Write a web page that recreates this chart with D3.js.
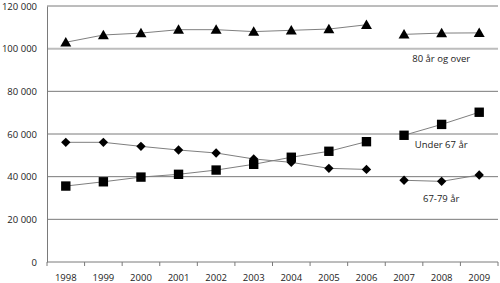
<!DOCTYPE html>
<html>
<head>
<meta charset="utf-8">
<script src="https://cdn.jsdelivr.net/npm/d3@7"></script>
<style>
  body { margin: 0; background: #fff; }
  text { font-family: "Open Sans", sans-serif; fill: #222; }
</style>
</head>
<body>
<div id="chart"></div>
<script>
// Years on the x axis
const years = ['1998', '1999', '2000', '2001', '2002', '2003', '2004', '2005', '2006', '2007', '2008', '2009'];

// Series values
const over80 = [103000, 106400, 107300, 108900, 108900, 108000, 108600, 109200, 111200, 106700, 107300, 107400];
const under67 = [35600, 37600, 39800, 41100, 43100, 45800, 49100, 51900, 56400, 59400, 64500, 70200];
const age6779 = [56100, 56100, 54200, 52500, 51100, 48300, 46700, 43900, 43400, 38300, 37800, 40800];

// lines break between 2006 and 2007
const segments = [['1998', '2006'], ['2007', '2009']];

const yTicks = [0, 20000, 40000, 60000, 80000, 100000, 120000];

const width = 500, height = 283;
const margin = { top: 6, right: 2, bottom: 21, left: 47 };

const svg = d3.select('#chart').append('svg')
  .attr('width', width)
  .attr('height', height);

const x = d3.scaleBand()
  .domain(years)
  .range([margin.left, width - margin.right]);

const y = d3.scaleLinear()
  .domain([0, 120000])
  .range([height - margin.bottom, margin.top]);

// gridlines
svg.append('g')
  .selectAll('line')
  .data(yTicks.filter(d => d > 0))
  .join('line')
  .attr('x1', margin.left)
  .attr('x2', width - margin.right)
  .attr('y1', d => y(d))
  .attr('y2', d => y(d))
  .attr('stroke', d => d === 100000 ? '#bdbdbd' : '#7a7a7a')
  .attr('stroke-width', d => d === 100000 ? 2 : 1);

// y axis
const yAxis = svg.append('g')
  .attr('transform', `translate(${margin.left},0)`)
  .call(d3.axisLeft(y).tickValues(yTicks).tickSize(0).tickPadding(10).tickFormat(d => d3.format(',')(d).replace(/,/g, ' ')));
yAxis.select('.domain').attr('stroke', '#7a7a7a');
yAxis.selectAll('text').style('font-size', '9.5px').style('font-family', '"Open Sans", sans-serif').attr('fill', '#222');

// x axis
const xAxis = svg.append('g')
  .attr('transform', `translate(0,${y(0)})`)
  .call(d3.axisBottom(x).tickSize(0).tickPadding(12));
xAxis.select('.domain').remove();
xAxis.selectAll('text').style('font-size', '9.5px').style('font-family', '"Open Sans", sans-serif').attr('fill', '#222');

svg.append('line')
  .attr('x1', margin.left).attr('x2', width - margin.right)
  .attr('y1', y(0)).attr('y2', y(0))
  .attr('stroke', '#7a7a7a');

// tick marks at band edges
const edges = years.map(d => x(d)).concat([x(years[years.length - 1]) + x.bandwidth()]);
svg.append('g')
  .selectAll('line')
  .data(edges)
  .join('line')
  .attr('x1', d => d).attr('x2', d => d)
  .attr('y1', y(0)).attr('y2', y(0) + 4)
  .attr('stroke', '#7a7a7a');

const cx = d => x(d) + x.bandwidth() / 2;

const series = [
  { name: '80 år og over', values: over80, symbol: d3.symbolTriangle, size: 52, rotate: 0 },
  { name: 'Under 67 år', values: under67, symbol: d3.symbolSquare, size: 88, rotate: 0 },
  { name: '67-79 år', values: age6779, symbol: d3.symbolSquare, size: 44, rotate: 45 }
];

const line = d3.line()
  .x(d => cx(d.year))
  .y(d => y(d.value));

series.forEach(s => {
  const pts = years.map((yr, i) => ({ year: yr, value: s.values[i] }));
  segments.forEach(([a, b]) => {
    const seg = pts.slice(years.indexOf(a), years.indexOf(b) + 1);
    svg.append('path')
      .datum(seg)
      .attr('fill', 'none')
      .attr('stroke', '#7f7f7f')
      .attr('stroke-width', 1)
      .attr('d', line);
  });
  svg.append('g')
    .selectAll('path')
    .data(pts)
    .join('path')
    .attr('d', d3.symbol().type(s.symbol).size(s.size))
    .attr('transform', d => `translate(${cx(d.year)},${y(d.value) + (s.symbol === d3.symbolTriangle ? 1 : 0)}) rotate(${s.rotate})`)
    .attr('fill', '#000');
});

// series labels
const labels = [
  { text: '80 år og over', year: '2009', value: 95000 },
  { text: 'Under 67 år', year: '2009', value: 54400 },
  { text: '67-79 år', year: '2009', value: 29400 }
];
svg.append('g')
  .selectAll('text')
  .data(labels)
  .join('text')
  .attr('x', d => cx(d.year) - 38)
  .attr('y', d => y(d.value))
  .attr('text-anchor', 'middle')
  .attr('dominant-baseline', 'middle')
  .style('font-size', '9.5px')
  .text(d => d.text);
</script>
</body>
</html>
